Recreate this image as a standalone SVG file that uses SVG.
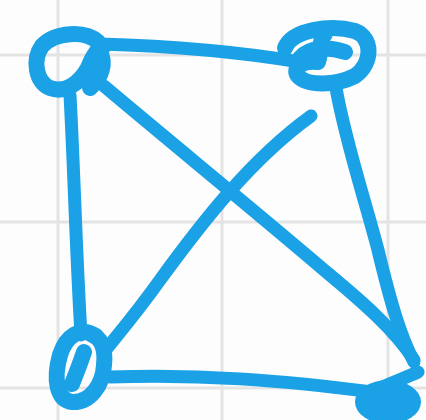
<svg xmlns="http://www.w3.org/2000/svg" width="426" height="420" viewBox="0 0 426 420">
<style>
.grid{stroke:#e4e4e4;stroke-width:3;fill:none}
.ink{stroke:#1ba1e6;stroke-width:13;fill:none;stroke-linecap:round;stroke-linejoin:round}
.node{stroke:#1ba1e6;stroke-width:16;fill:none;stroke-linecap:round;stroke-linejoin:round}
.blob{fill:#1ba1e6}
</style>
<rect width="426" height="420" fill="#fdfdfd"/>
<g id="grid">
<line class="grid" x1="58" y1="0" x2="58" y2="420"/>
<line class="grid" x1="222" y1="0" x2="222" y2="420"/>
<line class="grid" x1="388" y1="0" x2="388" y2="420"/>
<line class="grid" x1="0" y1="55" x2="426" y2="55"/>
<line class="grid" x1="0" y1="222" x2="426" y2="222"/>
<line class="grid" x1="0" y1="388" x2="426" y2="388"/>
</g>
<g id="connectors">
<path class="ink" d="M100,44 C170,46 240,52 300,62"/>
<path class="ink" d="M70,95 C74,170 76,250 81,335"/>
<path class="ink" d="M104,86 C180,150 260,215 330,275 C360,300 395,330 414,360"/>
<path class="ink" d="M311,116 C250,160 200,225 160,280 C135,315 115,338 104,352"/>
<path class="ink" d="M336,88 C345,140 365,200 378,250 C390,300 400,335 414,362"/>
<path class="ink" d="M110,377 C200,374 280,380 372,392"/>
</g>
<g id="node-tl">
<path class="node" d="M98,42 C85,30 55,32 42,46 C32,60 36,82 50,88 C66,94 80,82 88,68 C92,58 96,50 104,46"/>
<path class="node" d="M100,52 C106,62 102,78 90,88"/>
</g>
<g id="node-tr">
<path class="node" d="M285,48 C292,30 330,24 355,31 C373,38 373,63 355,76 C335,86 307,86 298,76 C292,68 302,60 318,62 C322,50 318,42 325,34"/>
<path class="node" d="M300,58 C310,46 330,47 345,52"/>
</g>
<g id="node-bl">
<path class="node" d="M96,336 C80,326 66,336 60,355 C53,380 57,400 72,402 C90,403 103,385 104,365 C106,347 100,337 92,335"/>
<path class="node" d="M84,352 C80,364 76,374 72,384"/>
</g>
<g id="node-br">
<ellipse class="blob" cx="388" cy="402" rx="33" ry="22"/>
<path class="ink" d="M372,392 C385,385 405,378 418,372"/>
</g>
</svg>
